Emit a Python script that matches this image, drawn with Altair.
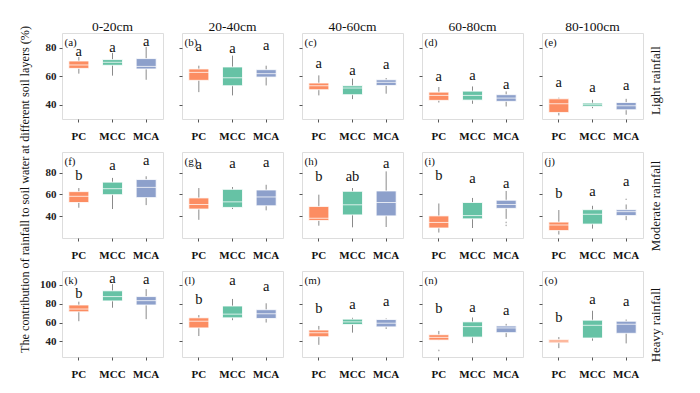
import altair as alt
import pandas as pd

groups = ["PC", "MCC", "MCA"]
colors = ["#FC8D62", "#66C2A5", "#8DA0CB"]
depths = ["0-20cm", "20-40cm", "40-60cm", "60-80cm", "80-100cm"]
rains = ["Light rainfall", "Moderate rainfall", "Heavy rainfall"]
panel_tags = ["(a)", "(b)", "(c)", "(d)", "(e)", "(f)", "(g)", "(h)", "(i)", "(j)",
              "(k)", "(l)", "(m)", "(n)", "(o)"]

# box statistics per panel, order PC, MCC, MCA
whisker_lo = [
    [61.9, 60.5, 57.6], [48.9, 46.6, 53.6], [46.6, 44.0, 47.8], [41.6, 40.7, 38.8], [32.5, 37.6, 33.0],
    [47.8, 46.6, 50.2], [36.7, 46.6, 45.4], [31.3, 29.8, 30.1], [25.0, 29.2, 37.6], [23.2, 28.6, 36.4],
    [61.4, 75.7, 63.6], [45.7, 62.5, 60.0], [36.4, 49.3, 53.2], [41.4, 38.2, 44.6], [32.9, 40.7, 37.9],
]
q1 = [
    [65.6, 67.8, 65.2], [57.2, 53.4, 59.5], [50.6, 47.1, 53.6], [43.1, 43.3, 42.4], [34.6, 38.8, 36.5],
    [52.6, 59.8, 57.1], [46.6, 48.1, 49.6], [36.1, 41.2, 40.3], [29.2, 37.6, 47.2], [26.8, 32.8, 40.6],
    [71.4, 82.9, 78.6], [54.3, 65.0, 64.3], [45.0, 57.9, 55.4], [41.4, 44.6, 49.3], [38.6, 43.6, 48.6],
]
median = [
    [68.0, 69.9, 67.0], [62.8, 59.0, 61.9], [53.4, 51.8, 55.8], [46.6, 46.6, 44.7], [40.7, 40.0, 39.3],
    [58.3, 65.3, 66.5], [50.8, 53.2, 57.7], [38.2, 50.5, 52.6], [34.3, 40.6, 50.8], [31.9, 41.8, 44.2],
    [74.3, 87.5, 83.2], [61.4, 68.9, 69.3], [49.3, 60.7, 59.3], [44.3, 55.7, 54.3], [40.4, 57.1, 58.2],
]
q3 = [
    [70.8, 71.8, 72.5], [65.2, 66.6, 64.7], [55.3, 53.4, 57.6], [48.9, 49.6, 47.1], [44.2, 41.2, 41.6],
    [62.6, 71.3, 73.7], [56.8, 64.7, 64.1], [49.0, 62.9, 63.2], [40.3, 52.6, 54.7], [34.6, 46.0, 46.0],
    [78.6, 93.6, 87.5], [65.0, 77.5, 73.6], [52.1, 63.6, 63.2], [47.1, 60.7, 56.4], [42.1, 62.5, 61.4],
]
whisker_hi = [
    [73.6, 76.5, 80.7], [67.5, 74.6, 67.5], [60.7, 58.4, 58.8], [52.5, 52.9, 49.4], [45.0, 43.5, 44.2],
    [65.9, 75.2, 76.7], [65.9, 66.8, 68.9], [59.8, 65.9, 81.2], [51.7, 56.8, 63.2], [45.7, 49.6, 50.8],
    [82.1, 100.7, 95.4], [67.9, 85.0, 80.4], [56.4, 65.0, 64.3], [51.1, 65.4, 58.6], [44.6, 72.5, 63.2],
]
letters = [
    ["a", "a", "a"], ["a", "a", "a"], ["a", "a", "a"], ["a", "a", "a"], ["a", "a", "a"],
    ["b", "a", "a"], ["a", "a", "a"], ["b", "ab", "a"], ["b", "a", "a"], ["b", "a", "a"],
    ["b", "a", "a"], ["b", "a", "a"], ["b", "a", "a"], ["b", "a", "a"], ["b", "a", "a"],
]
letter_y = [
    [76.9, 80.0, 84.0], [80.7, 79.5, 81.2], [68.9, 63.5, 67.8], [59.5, 60.0, 54.1], [55.3, 51.8, 52.9],
    [77.3, 86.3, 90.5], [86.9, 88.1, 89.3], [76.4, 76.4, 88.4], [77.3, 74.3, 69.8], [60.8, 62.3, 71.3],
    [90.0, 106.0, 104.6], [83.9, 103.6, 97.5], [73.9, 78.6, 82.1], [73.9, 75.0, 72.5], [65.0, 83.9, 82.1],
]
# outliers: (panel index, group, value)
outlier_panel = [8, 8, 9, 13]
outlier_group = ["MCA", "MCA", "MCA", "PC"]
outlier_value = [34.3, 31.6, 55.6, 30.4]

row_domains = [[30, 90.5], [20, 99], [23.5, 114.6]]
row_ticks = [[40, 60, 80], [40, 60, 80], [40, 60, 80, 100]]

FONT = "Liberation Serif"
PW, PH = 101, 86

rows = []
for r in range(3):
    panels = []
    for c in range(5):
        i = r * 5 + c
        df = pd.DataFrame({
            "group": groups,
            "lo": whisker_lo[i], "q1": q1[i], "med": median[i], "q3": q3[i], "hi": whisker_hi[i],
            "letter": letters[i], "ly": letter_y[i],
        })
        yscale = alt.Scale(domain=row_domains[r], nice=False, zero=False)
        yaxis = alt.Axis(values=row_ticks[r], labels=(c == 0), title=None, grid=False,
                         domain=False, tickSize=3, tickColor="#555", labelOverlap=False,
                         labelFont=FONT, labelFontWeight="bold", labelFontSize=11,
                         labelColor="#222", labelPadding=3)
        xaxis = alt.Axis(title=None, labelAngle=0, domain=False, tickSize=3, tickColor="#555",
                         labelFont=FONT, labelFontWeight="bold", labelFontSize=11,
                         labelColor="#111", labelPadding=8)
        xenc = alt.X("group:N", sort=groups,
                     scale=alt.Scale(domain=groups, paddingInner=0, paddingOuter=0),
                     axis=xaxis)

        def Y(field):
            return alt.Y(field, scale=yscale, axis=yaxis)

        base = alt.Chart(df).encode(x=xenc)
        whisk = base.mark_rule(color="#8a8a8a", strokeWidth=1).encode(y=Y("lo:Q"), y2="hi:Q")
        box = base.mark_bar(size=20, stroke="white", strokeWidth=0.8, opacity=1).encode(
            y=Y("q1:Q"), y2="q3:Q",
            color=alt.Color("group:N", scale=alt.Scale(domain=groups, range=colors), legend=None))
        med = base.mark_tick(color="white", size=20, thickness=1, opacity=0.75).encode(y=Y("med:Q"))
        let = base.mark_text(font=FONT, fontSize=14.5, baseline="middle", color="#111").encode(
            y=Y("ly:Q"), text="letter:N")
        layers = [whisk, box, med, let]
        odf = pd.DataFrame({
            "group": [g for p, g in zip(outlier_panel, outlier_group) if p == i],
            "v": [v for p, v in zip(outlier_panel, outlier_value) if p == i],
        })
        if len(odf):
            pts = alt.Chart(odf).mark_circle(size=3, color="#bbbbbb", opacity=1).encode(
                x=xenc, y=Y("v:Q"))
            layers.append(pts)
        tag = alt.Chart(pd.DataFrame({"t": [panel_tags[i]]})).mark_text(
            font=FONT, fontSize=11, align="left", baseline="middle", color="#111").encode(
            x=alt.value(2.5), y=alt.value(10), text="t:N")
        layers.append(tag)
        if r == 0:
            head = alt.Chart(pd.DataFrame({"t": [depths[c]]})).mark_text(
                font=FONT, fontSize=13.5, align="center", baseline="alphabetic",
                color="#111").encode(x=alt.value(PW / 2), y=alt.value(-2), text="t:N")
            layers.append(head)
        panels.append(alt.layer(*layers).properties(width=PW, height=PH))
    row = alt.hconcat(*panels, spacing=14).properties(
        title=alt.TitleParams(rains[r], orient="right", angle=270, anchor="middle",
                              font=FONT, fontSize=13, fontWeight="normal", offset=-7,
                              color="#111"))
    rows.append(row)

chart = alt.vconcat(*rows, spacing=9).properties(
    title=alt.TitleParams(
        "The contribution of rainfall to soil water at different soil layers (%)",
        orient="left", anchor="middle", font=FONT, fontSize=12.2, fontWeight="normal",
        offset=8, dx=10, color="#111"),
    padding={"left": 10, "top": 11, "right": 5, "bottom": 0},
).configure_view(stroke="#6e6e6e", strokeWidth=1).configure(background="white")

chart.save("out.html", embed_options={"renderer": "svg", "actions": False})
